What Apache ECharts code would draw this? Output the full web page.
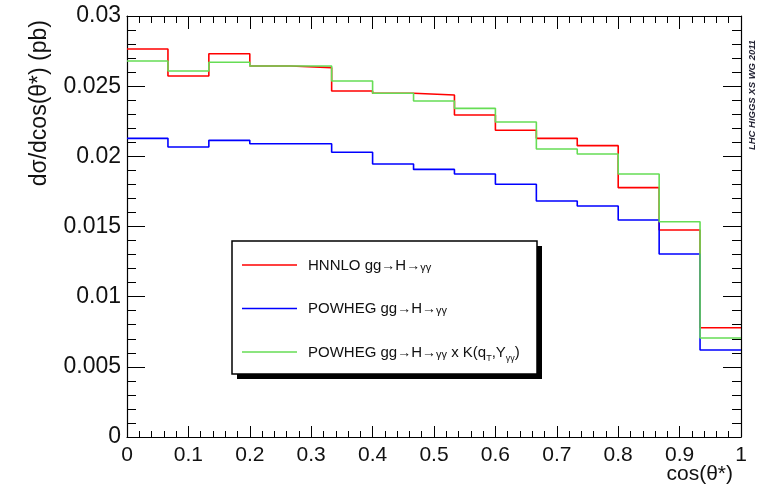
<!DOCTYPE html>
<html>
<head>
<meta charset="utf-8">
<script src="https://cdn.jsdelivr.net/npm/echarts@6/dist/echarts.min.js"></script>
<style>
html,body{margin:0;padding:0;background:#fff;}
#chart{width:761px;height:492px;}
</style>
</head>
<body>
<div id="chart"></div>
<script>
// Bin lower edges of cos(theta*) histogram (15 bins from 0 to 1)
var binLow = [0, 0.0667, 0.1333, 0.2, 0.2667, 0.3333, 0.4, 0.4667, 0.5333, 0.6, 0.6667, 0.7333, 0.8, 0.8667, 0.9333];
var binEnd = 1;

var seriesNames = ['HNNLO gg→H→γγ', 'POWHEG gg→H→γγ', 'POWHEG gg→H→γγ x K(qT,Yγγ)'];
var hnnlo   = [0.02765, 0.02572, 0.02731, 0.02644, 0.02632, 0.02466, 0.02449, 0.02437, 0.02295, 0.02186, 0.02128, 0.02076, 0.01777, 0.01475, 0.00779];
var powheg  = [0.02128, 0.02067, 0.02114, 0.02090, 0.02090, 0.02029, 0.01945, 0.01907, 0.01874, 0.01801, 0.01682, 0.01646, 0.01546, 0.01304, 0.00620];
var powhegK = [0.02679, 0.02608, 0.02670, 0.02644, 0.02644, 0.02537, 0.02449, 0.02394, 0.02342, 0.02245, 0.02052, 0.02017, 0.01874, 0.01534, 0.00705];

var xTicks = [0, 0.1, 0.2, 0.3, 0.4, 0.5, 0.6, 0.7, 0.8, 0.9, 1];
var xTickLabels = ['0', '0.1', '0.2', '0.3', '0.4', '0.5', '0.6', '0.7', '0.8', '0.9', '1'];
var yTicks = [0, 0.005, 0.01, 0.015, 0.02, 0.025, 0.03];
var yTickLabels = ['0', '0.005', '0.01', '0.015', '0.02', '0.025', '0.03'];

var xTitle = 'cos(θ*)';
var yTitle = 'dσ/dcos(θ*) (pb)';
var watermark = 'LHC HIGGS XS WG 2011';

var FONT = '"Liberation Sans", Arial, Helvetica, sans-serif';
var TXT = '#111';

function histData(vals) {
  var d = binLow.map(function (x, i) { return [x, vals[i]]; });
  d.push([binEnd, vals[vals.length - 1]]);
  return d;
}
function labelFor(ticks, labels) {
  return function (v) {
    for (var i = 0; i < ticks.length; i++) {
      if (Math.abs(ticks[i] - v) < 1e-9) return labels[i];
    }
    return '';
  };
}

var legendRich = {
  t: {fontSize: 15, fontFamily: FONT, color: TXT, lineHeight: 16, verticalAlign: 'bottom'},
  a: {fontSize: 14, fontFamily: FONT, color: TXT, lineHeight: 16, verticalAlign: 'bottom'},
  s: {fontSize: 11, fontFamily: FONT, color: TXT, lineHeight: 16, verticalAlign: 'bottom'},
  sub: {fontSize: 9, fontFamily: FONT, color: TXT, lineHeight: 16, verticalAlign: 'bottom', padding: [0, 0, -3, 0]}
};
var legendFormatted = {};
legendFormatted[seriesNames[0]] = '{t|HNNLO gg}{a|→}{t|H}{a|→}{s|γγ}';
legendFormatted[seriesNames[1]] = '{t|POWHEG gg}{a|→}{t|H}{a|→}{s|γγ}';
legendFormatted[seriesNames[2]] = '{t|POWHEG gg}{a|→}{t|H}{a|→}{s|γγ}{t| x K(q}{sub|T}{t|,Y}{sub|γγ}{t|)}';

var chart = echarts.init(document.getElementById('chart'), null, {renderer: 'canvas'});

function xAxisCfg(pos, showLabels, tickLen) {
  return {
    type: 'value', position: pos, min: xTicks[0], max: xTicks[xTicks.length - 1], interval: 0.1,
    axisLine: {show: true, onZero: false, lineStyle: {color: '#000', width: 1.2}},
    axisTick: {show: true, inside: true, length: tickLen, lineStyle: {color: '#000', width: 1}},
    minorTick: {show: true, splitNumber: 5, length: Math.round(tickLen / 2), lineStyle: {color: '#000', width: 1}},
    splitLine: {show: false},
    axisLabel: {show: showLabels, fontSize: 21, color: TXT, fontFamily: FONT, margin: 8,
      showMinLabel: true, showMaxLabel: true, formatter: labelFor(xTicks, xTickLabels)}
  };
}
function yAxisCfg(pos, showLabels, tickLen) {
  return {
    type: 'value', position: pos, min: yTicks[0], max: yTicks[yTicks.length - 1], interval: 0.005,
    axisLine: {show: true, onZero: false, lineStyle: {color: '#000', width: 1.2}},
    axisTick: {show: true, inside: true, length: tickLen, lineStyle: {color: '#000', width: 1}},
    minorTick: {show: true, splitNumber: 5, length: Math.round(tickLen / 2), lineStyle: {color: '#000', width: 1}},
    splitLine: {show: false},
    axisLabel: {show: showLabels, fontSize: 23, color: TXT, fontFamily: FONT, margin: 6,
      showMinLabel: true, showMaxLabel: true, formatter: labelFor(yTicks, yTickLabels)}
  };
}

var colors = ['#ff0000', '#0000ff', '#66dd55'];
var datasets = [hnnlo, powheg, powhegK];

var option = {
  animation: false,
  backgroundColor: '#fff',
  grid: {left: 127, right: 20, top: 16, bottom: 55, containLabel: false},
  xAxis: [xAxisCfg('bottom', true, 11), xAxisCfg('top', false, 13)],
  yAxis: [yAxisCfg('left', true, 18), yAxisCfg('right', false, 18)],
  legend: {
    orient: 'vertical', left: 232, top: 241,
    padding: [17, 10, 10, 10],
    itemWidth: 55, itemHeight: 16, itemGap: 28.5,
    icon: 'path://M0,0 L55,0 L55,1.6 L0,1.6 Z',
    symbolKeepAspect: true,
    data: seriesNames,
    selectedMode: false,
    formatter: function (name) { return legendFormatted[name]; },
    textStyle: {rich: legendRich, padding: [0, 0, 0, 6]},
    z: 10
  },
  graphic: [
    {type: 'rect', z: 5, shape: {x: 237, y: 246, width: 305, height: 133}, style: {fill: '#000'}},
    {type: 'rect', z: 6, shape: {x: 232, y: 241, width: 305, height: 133}, style: {fill: '#fff', stroke: '#000', lineWidth: 1.5}},
    {type: 'text', z: 10, x: 733, y: 474, style: {text: xTitle, font: '21px ' + FONT, fill: TXT, align: 'right', verticalAlign: 'middle'}},
    {type: 'text', z: 10, x: 40, y: 20, rotation: Math.PI / 2, style: {text: yTitle, font: '23px ' + FONT, fill: TXT, align: 'right', verticalAlign: 'middle'}},
    {type: 'text', z: 10, x: 752, y: 95, rotation: Math.PI / 2, style: {text: watermark, font: 'italic bold 9.5px ' + FONT, fill: '#223', align: 'center', verticalAlign: 'middle'}}
  ],
  series: datasets.map(function (vals, i) {
    return {
      name: seriesNames[i], type: 'line', step: 'end', xAxisIndex: 0, yAxisIndex: 0,
      data: histData(vals), symbol: 'none', showSymbol: false,
      lineStyle: {color: colors[i], width: 1.6}, itemStyle: {color: colors[i]},
      z: [2, 2, 3][i]
    };
  })
};
chart.setOption(option);
</script>
</body>
</html>
